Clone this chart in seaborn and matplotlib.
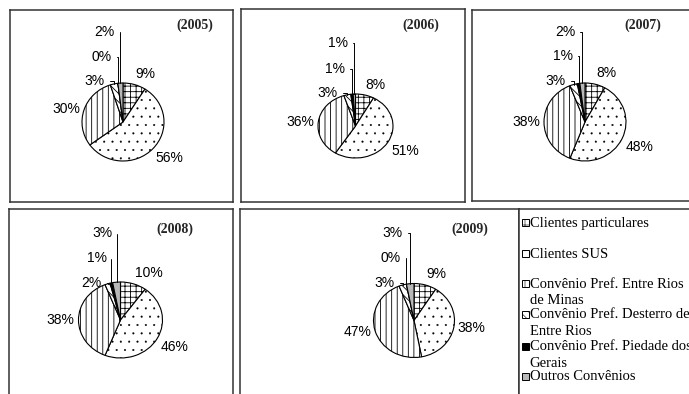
import numpy as np
import matplotlib
matplotlib.use("Agg")
import matplotlib.pyplot as plt
from matplotlib.patches import Rectangle
import seaborn as sns

# ---- data -------------------------------------------------------------
years = ["(2005)", "(2006)", "(2007)", "(2008)", "(2009)"]
categories = [
    "Clientes particulares",
    "Clientes SUS",
    "Convênio Pref. Entre Rios\nde Minas",
    "Convênio Pref. Desterro de\nEntre Rios",
    "Convênio Pref. Piedade dos\nGerais",
    "Outros Convênios",
]
share_2005 = [9, 56, 30, 3, 0, 2]
share_2006 = [8, 51, 36, 3, 1, 1]
share_2007 = [8, 48, 38, 3, 1, 2]
share_2008 = [10, 46, 38, 2, 1, 3]
share_2009 = [9, 38, 47, 3, 0, 3]
shares = [share_2005, share_2006, share_2007, share_2008, share_2009]

# ---- style ------------------------------------------------------------
sns.set_theme(style="white")
plt.rcParams["font.family"] = ["Liberation Sans", "DejaVu Sans"]
plt.rcParams["hatch.linewidth"] = 0.6
plt.rcParams["hatch.color"] = "black"

faces = ["white", "white", "white", "white", "black", "#b8b8b8"]
hatches = ["+++", "..", "|||", "\\\\\\\\", "", ""]
hatch_lw = [0.6, 0.25, 0.6, 0.6, 0.6, 0.6]

W, H = 689, 394
fig = plt.figure(figsize=(W / 100, H / 100), dpi=100, facecolor="white")


def px_axes(l, t, r, b):
    return fig.add_axes([l / W, 1 - b / H, (r - l) / W, (b - t) / H])


# panel box (l, t, r, b), pie centre and radii, year-label centre,
# and placement (dx of right edge, dy above centre) of the stacked labels
# of the thin slices (Outros, Piedade, Desterro) -- all in pixels
panels = [
    dict(box=(10, 10, 233, 202), pie=(123, 122, 41, 39), year=(195, 25),
         small={5: (-8, 90), 4: (-11, 65), 3: (-18, 41)}),
    dict(box=(241, 9, 465, 202), pie=(355.5, 126, 37.5, 32), year=(421, 25),
         small={5: (-7.5, 83), 4: (-10.5, 57), 3: (-17.5, 33)}),
    dict(box=(472, 10, 700, 201), pie=(585, 122, 41, 39), year=(643, 25),
         small={5: (-10, 90), 4: (-12, 66), 3: (-19, 41)}),
    dict(box=(9, 209, 233, 400), pie=(120.5, 320, 42, 38), year=(175, 229),
         small={5: (-7.5, 87), 4: (-13.5, 62), 3: (-18.5, 37)}),
    dict(box=(240, 209, 519, 400), pie=(414, 320.5, 40.5, 37), year=(470, 229),
         small={5: (-11, 87.5), 4: (-13, 62.5), 3: (-19, 37.5)}),
]

for vals, year, pan in zip(shares, years, panels):
    l, t, r, b = pan["box"]
    cx, cy, rx, ry = pan["pie"]
    ax = px_axes(l, t, r, b)
    wedges, _ = ax.pie(vals, startangle=90, counterclock=False, colors=faces,
                       wedgeprops=dict(edgecolor="black", linewidth=0.8))
    for w, h, hl in zip(wedges, hatches, hatch_lw):
        w.set_hatch(h)
        if hasattr(w, "set_hatch_linewidth"):
            w.set_hatch_linewidth(hl)
    ax.set_frame_on(True)
    ax.set_aspect("auto")
    ax.set_xlim((l - cx) / rx, (r - cx) / rx)
    ax.set_ylim((cy - b) / ry, (cy - t) / ry)
    ax.set_xticks([])
    ax.set_yticks([])
    for s in ax.spines.values():
        s.set_visible(True)
        s.set_color("#333333")
        s.set_linewidth(1.1)

    # labels of the wide slices
    for i in range(3):
        w = wedges[i]
        mid = np.deg2rad((w.theta1 + w.theta2) / 2)
        c, s = np.cos(mid), np.sin(mid)
        ha = "left" if c >= 0 else "right"
        va = "bottom" if s > 0.4 else ("top" if s < -0.4 else "center")
        ax.text(1.1 * c, 1.1 * s, f"{vals[i]}%", ha=ha, va=va, fontsize=10,
                color="black")

    # stacked labels with leader lines for the thin slices
    for i, (dx, dy) in pan["small"].items():
        w = wedges[i]
        mid = np.deg2rad((w.theta1 + w.theta2) / 2)
        ax.annotate(f"{vals[i]}%", xy=(np.cos(mid), np.sin(mid)),
                    xytext=(dx / rx, dy / ry), ha="right", va="center",
                    fontsize=10, color="black",
                    arrowprops=dict(arrowstyle="-", color="black", lw=0.7,
                                    shrinkA=1, shrinkB=0,
                                    connectionstyle="angle,angleA=0,angleB=90,rad=0"))

    yx, yy = pan["year"]
    fig.text(yx / W, 1 - yy / H, year, ha="center", va="center", fontsize=10,
             fontweight="bold", family=["Liberation Serif", "DejaVu Serif"])

# ---- legend panel -----------------------------------------------------
lax = px_axes(519, 209, 700, 400)
lax.set_xticks([])
lax.set_yticks([])
for s in lax.spines.values():
    s.set_color("#333333")
    s.set_linewidth(1.1)
lax.set_xlim(519, 700)
lax.set_ylim(400, 209)

entry_y = [222, 253, 283, 314, 346, 376]
for y, lab, fc, h in zip(entry_y, categories, faces, hatches):
    patch = Rectangle((521.5, y - 3.5), 7, 7, facecolor=fc, hatch=h,
                      edgecolor="black", linewidth=0.7)
    if hasattr(patch, "set_hatch_linewidth"):
        patch.set_hatch_linewidth(0.4)
    lax.add_patch(patch)
    lax.text(529.5, y - 5.5, lab, ha="left", va="top", fontsize=10.5,
             linespacing=1.35, family=["Liberation Serif", "DejaVu Serif"],
             color="black", clip_on=False)

fig.savefig("out.png", dpi=100, facecolor="white")
